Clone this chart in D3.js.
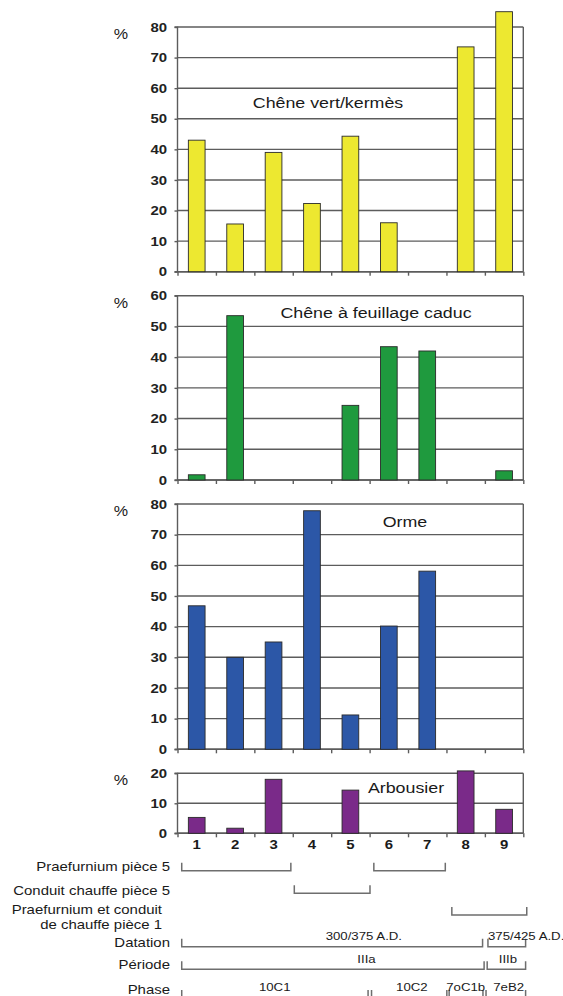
<!DOCTYPE html>
<html><head><meta charset="utf-8">
<script src="https://cdn.jsdelivr.net/npm/d3@7"></script>
<style>body{margin:0;background:#fff} svg{display:block;font-family:"Liberation Sans",Arial,sans-serif}</style>
</head><body><svg id="c" width="563" height="996"></svg>
<script>
// ---------------- DATA ----------------
const categories = ["1","2","3","4","5","6","7","8","9"];
const cheneVert  = [43, 15.6, 39, 22.3, 44.3, 16, 0, 73.5, 85];
const cheneCaduc = [1.7, 53.5, 0, 0, 24.3, 43.4, 42, 0, 3];
const orme       = [46.8, 30, 35, 77.8, 11.2, 40.2, 58.1, 0, 0];
const arbousier  = [5.3, 1.7, 18, 0, 14.4, 0, 0, 20.8, 8];
const panelTitles = ["Chêne vert/kermès", "Chêne à feuillage caduc", "Orme", "Arbousier"];
const panelMax    = [80, 60, 80, 20];
const panelTicks  = [[0,10,20,30,40,50,60,70,80],[0,10,20,30,40,50,60],[0,10,20,30,40,50,60,70,80],[0,10,20]];
const panelColors = ["#ede830", "#1f9a3e", "#2c57a7", "#7a2a89"];
const yUnit = "%";

// bracket rows below the charts (spans in category-axis units: 0 = left edge of category 1)
const rowLabels = [["Praefurnium pièce 5"], ["Conduit chauffe pièce 5"], ["Praefurnium et conduit", "de chauffe pièce 1"], ["Datation"], ["Période"], ["Phase"]];
const rowSpans = [
  [[0.11, 2.95], [5.11, 6.97]],
  [[3.04, 5.01]],
  [[7.14, 9.09]],
  [[0.11, 7.94], [8.08, 9.06]],
  [[0.11, 7.98], [8.06, 9.06]],
  [[0.11, 4.96], [5.05, 7.01], [7.07, 7.95], [8.03, 9.06]]
];
const datationLabels = ["300/375 A.D.", "375/425 A.D."];
const periodeLabels  = ["IIIa", "IIIb"];
const phaseLabels    = ["10C1", "10C2", "7oC1b", "7eB2"];
const datationLabelPos = [4.85, 8.08];
const periodeLabelPos  = [4.92, 8.6];
const phaseLabelPos    = [2.53, 6.1, 7.5, 8.62];

// ---------------- LAYOUT ----------------
const SX = 1.15;               // horizontal stretch of the original lettering
const X0 = 177.5, X1 = 523.3;
const panels = [
  {top: 27,    bottom: 271.7, title: [328, 108]},
  {top: 295.7, bottom: 480,   title: [376, 317.7]},
  {top: 504,   bottom: 749.3, title: [405, 526.7]},
  {top: 773.3, bottom: 833.3, title: [406, 793.3]}
];
const seriesList = [cheneVert, cheneCaduc, orme, arbousier];
const gridColor = "#5c5c5c";

const svg = d3.select("#c");
const xBand = d3.scaleBand().domain(categories).range([X0, X1]).paddingInner(0.565).paddingOuter(0.2825);
const xPos = d3.scaleLinear().domain([0, categories.length]).range([X0, X1]);

function stext(sel, x, y, s, size, anchor, weight) {
  return sel.append("text")
    .attr("transform", `translate(${x},${y}) scale(${SX},1)`)
    .attr("text-anchor", anchor || "start")
    .attr("font-size", size)
    .attr("font-weight", weight || "normal")
    .attr("fill", "#1a1a1a")
    .text(s);
}

panels.forEach((p, i) => {
  const g = svg.append("g");
  const y = d3.scaleLinear().domain([0, panelMax[i]]).range([p.bottom, p.top]);
  const data = seriesList[i];

  // gridlines
  g.append("g").selectAll("line").data(panelTicks[i]).join("line")
    .attr("x1", X0).attr("x2", X1)
    .attr("y1", d => y(d)).attr("y2", d => y(d))
    .attr("stroke", gridColor).attr("stroke-width", 1.4);
  // right border
  g.append("line").attr("x1", X1).attr("x2", X1).attr("y1", y(panelMax[i])).attr("y2", y(0))
    .attr("stroke", gridColor).attr("stroke-width", 1.4);

  // left axis
  const ya = g.append("g").attr("transform", `translate(${X0},0)`)
    .call(d3.axisLeft(y).tickValues(panelTicks[i]).tickSize(3).tickPadding(6).tickFormat(d3.format("d")));
  ya.select(".domain").attr("stroke", gridColor).attr("stroke-width", 1.4).attr("d", `M-3,${y(panelMax[i])}H0V${y(0)}H-3`);
  ya.selectAll(".tick line").attr("stroke", gridColor).attr("stroke-width", 1.4);
  ya.selectAll(".tick text").attr("font-size", 13).attr("font-weight", "bold").attr("fill", "#222")
    .attr("font-family", "'Liberation Sans', Arial, sans-serif")
    .attr("transform", `scale(${SX},1)`);

  // bottom axis ticks at category boundaries
  const xa = g.append("g").attr("transform", `translate(0,${p.bottom})`)
    .call(d3.axisBottom(xPos).tickValues(d3.range(0, categories.length + 1)).tickSize(4).tickFormat(""));
  xa.select(".domain").attr("stroke", gridColor).attr("stroke-width", 1.4).attr("d", `M${X0},0H${X1}`);
  xa.selectAll(".tick line").attr("stroke", gridColor).attr("stroke-width", 1.4);

  // bars
  g.append("g").selectAll("rect").data(data.map((v, k) => ({c: categories[k], v})).filter(d => d.v > 0)).join("rect")
    .attr("x", d => xBand(d.c)).attr("width", xBand.bandwidth())
    .attr("y", d => y(d.v)).attr("height", d => y(0) - y(d.v))
    .attr("fill", panelColors[i]).attr("stroke", "#2a2a2a").attr("stroke-width", 0.9);

  // unit and title
  stext(g, 121, p.top + 12, yUnit, 14, "middle");
  stext(g, p.title[0], p.title[1], panelTitles[i], 15.5, "middle");

  // category labels on the last panel
  if (i === panels.length - 1) {
    categories.forEach(c => stext(g, xBand(c) + xBand.bandwidth() / 2, p.bottom + 16, c, 13, "middle", "bold"));
  }
});

// ---------------- BRACKETS ----------------
const rowY = [870.7, 893.3, 915, 946.7, 969.3, 998];
const rowLabelY = [870.7, 895, 914, 946.7, 969.3, 993.5];
const bg = svg.append("g");
rowLabels.forEach((lab, r) => {
  if (lab.length === 1) stext(bg, 170, rowLabelY[r], lab[0], 13, "end");
  else lab.forEach((l, k) => stext(bg, 162, rowLabelY[r] + k * 15, l, 13, "end"));
  rowSpans[r].forEach(sp => {
    const a = xPos(sp[0]), b = xPos(sp[1]), yy = rowY[r], h = 8;
    bg.append("path").attr("d", `M${a},${yy - h}V${yy}H${b}V${yy - h}`)
      .attr("fill", "none").attr("stroke", "#6e6e6e").attr("stroke-width", 1.5);
  });
});
datationLabels.forEach((t, k) => stext(bg, xPos(datationLabelPos[k]), 940, t, 11.5, k === 0 ? "middle" : "start"));
periodeLabels.forEach((t, k) => stext(bg, xPos(periodeLabelPos[k]), 963, t, 11.5, "middle"));
phaseLabels.forEach((t, k) => stext(bg, xPos(phaseLabelPos[k]), 991, t, 11.5, "middle"));
</script>
</body></html>
